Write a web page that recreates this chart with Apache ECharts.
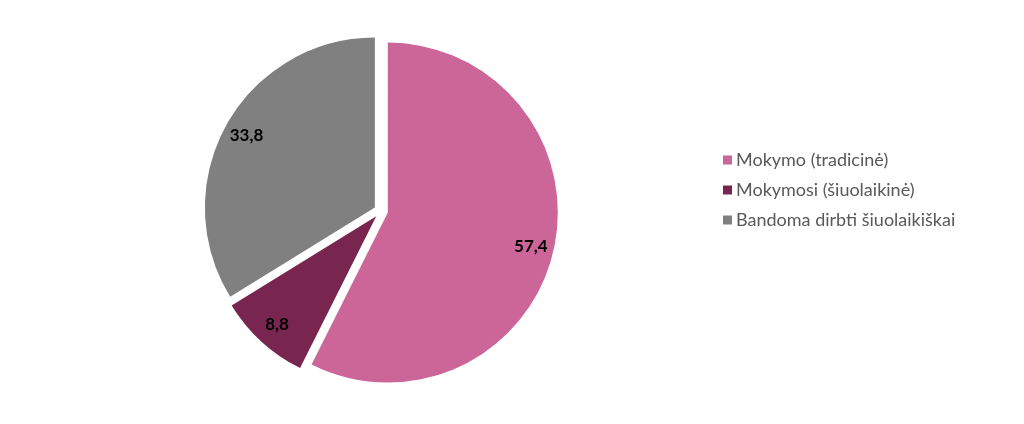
<!DOCTYPE html>
<html>
<head>
<meta charset="utf-8">
<script src="https://cdn.jsdelivr.net/npm/echarts@6/dist/echarts.min.js"></script>
<style>
html,body{margin:0;padding:0;background:#fff;}
#c{width:1024px;height:424px;}
</style>
</head>
<body>
<div id="c"></div>
<script>
const categories = ['Mokymo (tradicinė)', 'Mokymosi (šiuolaikinė)', 'Bandoma dirbti šiuolaikiškai'];
const values = [57.4, 8.8, 33.8];
const colors = ['#CC6699', '#78264F', '#808080'];
const explode = [7, 11, 7];

const chart = echarts.init(document.getElementById('c'), null, {renderer: 'canvas'});
const fmt = p => String(p.value).replace('.', ',');
const mainData = categories.map((n, i) => ({name: n, value: values[i], selected: true, selectedOffset: explode[i], itemStyle: {color: colors[i]}}));
const labelData = categories.map((n, i) => ({name: n, value: values[i], selected: true, selectedOffset: explode[i]}));

chart.setOption({
  animation: false,
  legend: {
    orient: 'vertical',
    left: 718,
    top: 146,
    itemWidth: 9,
    itemHeight: 9,
    itemGap: 12,
    icon: 'rect',
    data: categories,
    textStyle: {fontFamily: 'Lato', fontSize: 18, color: '#595959', padding: [0, 0, 0, -1]},
    selectedMode: false
  },
  series: [
    {
      type: 'pie',
      center: [381, 211],
      radius: [0, 170],
      startAngle: 90,
      clockwise: true,
      selectedMode: 'multiple',
      selectedOffset: 7,
      silent: true,
      label: {show: false},
      labelLine: {show: false},
      itemStyle: {borderWidth: 0},
      emphasis: {disabled: true},
      data: mainData
    },
    {
      type: 'pie',
      center: [381, 211],
      radius: [118, 170],
      startAngle: 90,
      clockwise: true,
      selectedMode: 'multiple',
      selectedOffset: 7,
      silent: true,
      itemStyle: {color: 'rgba(0,0,0,0)', borderWidth: 0},
      emphasis: {disabled: true},
      label: {show: true, position: 'inside', formatter: fmt, fontFamily: 'Lato', fontWeight: 'bold', fontSize: 17, color: '#000'},
      labelLine: {show: false},
      data: labelData
    }
  ]
});
</script>
</body>
</html>
